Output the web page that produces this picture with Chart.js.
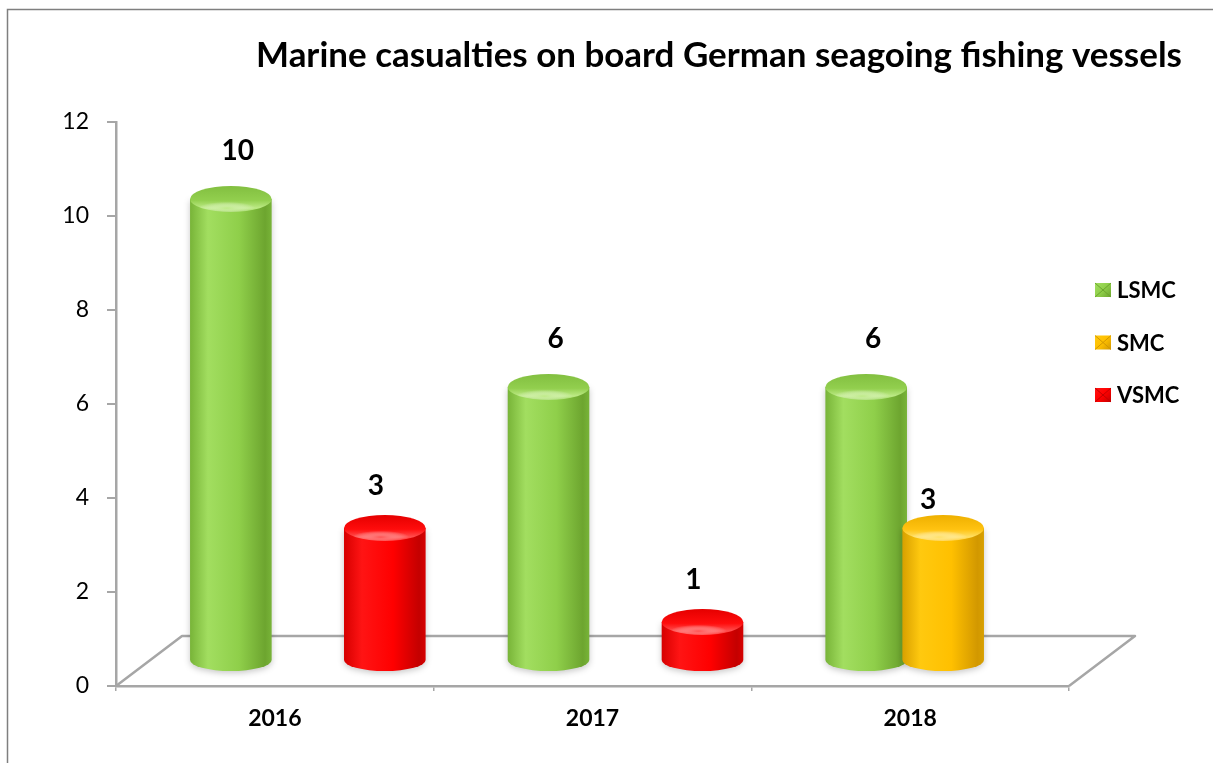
<!DOCTYPE html>
<html>
<head>
<meta charset="utf-8">
<script src="https://cdn.jsdelivr.net/npm/chart.js@4/dist/chart.umd.min.js"></script>
<style>
  html, body { margin: 0; background: #fff; }
</style>
</head>
<body>
<canvas id="chart" width="1213" height="763"></canvas>
<script>
const categories = ["2016", "2017", "2018"];
const seriesNames = ["LSMC", "SMC", "VSMC"];
const lsmc = [10, 6, 6];
const smc = [null, null, 3];
const vsmc = [3, 1, null];
const yMin = 0, yMax = 12, yStep = 2;

const TITLE = "Marine casualties on board German seagoing fishing vessels";
const FONT = "Lato, 'Open Sans', sans-serif";

// depth of the 3D floor
const DEPTH_X = 66, DEPTH_Y = 50;
const AXIS_GREY = "#a6a6a6";

const palettes = [
  { edge: "#78b438", light: "#a2de60", base: "#8fcf4a", dark: "#6da52f",
    cap: "#92cf4e", capBack: "#82bf40", glow: "#bdea86" },
  { edge: "#d8a000", light: "#ffc90f", base: "#ffc000", dark: "#d29800",
    cap: "#ffc210", capBack: "#eeb000", glow: "#ffe066" },
  { edge: "#d60000", light: "#ff1414", base: "#ff0000", dark: "#c40000",
    cap: "#ff0c0c", capBack: "#e50000", glow: "#ff5050" }
];

function cylinder(ctx, cx, rx, top, bottom, p) {
  const ry = 13, ryB = 11;
  ctx.save();
  const g = ctx.createLinearGradient(cx - rx, 0, cx + rx, 0);
  g.addColorStop(0, p.edge);
  g.addColorStop(0.22, p.light);
  g.addColorStop(0.6, p.base);
  g.addColorStop(0.92, p.dark);
  g.addColorStop(1, p.edge);
  ctx.shadowColor = "rgba(0,0,0,0.22)";
  ctx.shadowBlur = 6;
  ctx.shadowOffsetY = 2;
  ctx.beginPath();
  ctx.moveTo(cx - rx, top);
  ctx.lineTo(cx - rx, bottom);
  ctx.ellipse(cx, bottom, rx, ryB, 0, Math.PI, 0, true);
  ctx.lineTo(cx + rx, top);
  ctx.closePath();
  ctx.fillStyle = g;
  ctx.fill();
  ctx.shadowColor = "transparent";

  // top face
  const gc = ctx.createLinearGradient(0, top - ry, 0, top + ry);
  gc.addColorStop(0, p.capBack);
  gc.addColorStop(0.55, p.cap);
  gc.addColorStop(0.85, p.glow);
  gc.addColorStop(1, p.cap);
  ctx.beginPath();
  ctx.ellipse(cx, top, rx, ry, 0, 0, Math.PI * 2);
  ctx.fillStyle = gc;
  ctx.fill();

  // soft sheen on the rounded front rim
  ctx.save();
  ctx.beginPath();
  ctx.ellipse(cx, top, rx, ry, 0, 0, Math.PI * 2);
  ctx.clip();
  ctx.translate(cx - rx * 0.1, top + ry * 0.7);
  ctx.scale(1, 0.22);
  const rg = ctx.createRadialGradient(0, 0, 0, 0, 0, rx * 0.7);
  rg.addColorStop(0, p.glow);
  rg.addColorStop(1, "rgba(255,255,255,0)");
  ctx.fillStyle = rg;
  ctx.fillRect(-rx, -rx, rx * 2, rx * 2);
  ctx.restore();
  ctx.restore();
}

const cylinderPlugin = {
  id: "cylinders",
  beforeDatasetsDraw(chart) {
    const { ctx, chartArea: a, scales: { y } } = chart;
    // floor outline behind the bars
    ctx.save();
    ctx.strokeStyle = AXIS_GREY;
    ctx.lineWidth = 2.5;
    ctx.lineJoin = "round";
    ctx.beginPath();
    ctx.moveTo(a.left, a.bottom);
    ctx.lineTo(a.left + DEPTH_X, a.bottom - DEPTH_Y);
    ctx.lineTo(a.right + DEPTH_X, a.bottom - DEPTH_Y);
    ctx.lineTo(a.right, a.bottom);
    ctx.stroke();
    ctx.restore();

    const base = y.getPixelForValue(0) - DEPTH_Y / 2 - 1;
    chart.data.datasets.forEach((ds, i) => {
      chart.getDatasetMeta(i).data.forEach((bar, j) => {
        const v = ds.data[j];
        if (v == null) return;
        cylinder(ctx, bar.x + DEPTH_X / 2, bar.width / 2,
          y.getPixelForValue(v) - 17, base, palettes[i]);
      });
    });
    return false;
  },
  afterDraw(chart) {
    const { ctx, chartArea: a, scales: { y } } = chart;
    ctx.save();

    // outer frame
    ctx.strokeStyle = "#7f7f7f";
    ctx.lineWidth = 1.5;
    ctx.strokeRect(7.5, 9.5, 1300, 900);

    // title
    ctx.fillStyle = "#000";
    ctx.textAlign = "center";
    ctx.textBaseline = "alphabetic";
    let size = 30;
    ctx.font = `bold ${size}px ${FONT}`;
    size = size * 926 / ctx.measureText(TITLE).width;
    ctx.font = `bold ${size}px ${FONT}`;
    ctx.fillText(TITLE, 719, 67);

    // value labels
    const shiftX = [7, -15, -9];
    const liftY = [65, 45, 59];
    ctx.font = `bold 28px ${FONT}`;
    ctx.textBaseline = "middle";
    chart.data.datasets.forEach((ds, i) => {
      chart.getDatasetMeta(i).data.forEach((bar, j) => {
        const v = ds.data[j];
        if (v == null) return;
        ctx.fillText(String(v), bar.x + DEPTH_X / 2 + shiftX[i],
          y.getPixelForValue(v) - liftY[i]);
      });
    });

    // legend
    ctx.textAlign = "left";
    ctx.font = `bold 22px ${FONT}`;
    const lx = a.right + 26;
    chart.data.datasets.forEach((ds, i) => {
      const cy = 290 + i * 52.5;
      const p = palettes[i];
      const g = ctx.createLinearGradient(lx, cy - 7, lx + 16, cy + 7);
      g.addColorStop(0, p.light);
      g.addColorStop(0.5, p.base);
      g.addColorStop(1, p.dark);
      ctx.fillStyle = g;
      ctx.fillRect(lx, cy - 7, 16, 14);
      ctx.strokeStyle = p.dark;
      ctx.lineWidth = 1;
      ctx.beginPath();
      ctx.moveTo(lx, cy - 7); ctx.lineTo(lx + 16, cy + 7);
      ctx.moveTo(lx + 16, cy - 7); ctx.lineTo(lx, cy + 7);
      ctx.stroke();
      ctx.fillStyle = "#000";
      ctx.fillText(ds.label, lx + 22, cy + 1);
    });
    ctx.restore();
  }
};

new Chart(document.getElementById("chart"), {
  type: "bar",
  data: {
    labels: categories,
    datasets: [
      { label: seriesNames[0], data: lsmc, backgroundColor: palettes[0].base },
      { label: seriesNames[1], data: smc, backgroundColor: palettes[1].base },
      { label: seriesNames[2], data: vsmc, backgroundColor: palettes[2].base }
    ]
  },
  options: {
    responsive: false,
    animation: false,
    categoryPercentage: 0.727,
    barPercentage: 1.06,
    layout: { padding: { top: 122, right: 144, left: 0, bottom: 0 } },
    plugins: {
      legend: { display: false },
      title: { display: false },
      tooltip: { enabled: false }
    },
    scales: {
      x: {
        afterFit(scale) { scale.height = 77; },
        grid: { drawOnChartArea: false, drawTicks: true, tickLength: 5,
                color: AXIS_GREY, lineWidth: 1.5 },
        border: { display: true, color: AXIS_GREY, width: 2.5 },
        ticks: { color: "#000", padding: 14, font: { family: FONT, size: 23, weight: "bold" } }
      },
      y: {
        min: yMin,
        max: yMax,
        afterFit(scale) { scale.width = 116; },
        grid: { drawOnChartArea: false, drawTicks: true, tickLength: 9,
                color: AXIS_GREY, lineWidth: 2 },
        border: { display: true, color: AXIS_GREY, width: 2.5 },
        ticks: { stepSize: yStep, color: "#000", padding: 18,
                 font: { family: FONT, size: 23 } }
      }
    }
  },
  plugins: [cylinderPlugin]
});
</script>
</body>
</html>
